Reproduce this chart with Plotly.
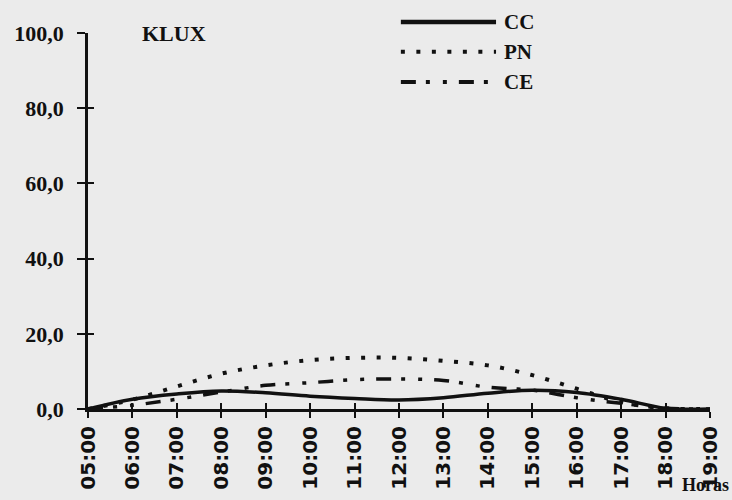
import plotly.graph_objects as go

# ---- data ----
hours = [5, 6, 7, 8, 9, 10, 11, 12, 13, 14, 15, 16, 17, 18, 19]
hour_labels = ["05:00", "06:00", "07:00", "08:00", "09:00", "10:00", "11:00",
               "12:00", "13:00", "14:00", "15:00", "16:00", "17:00", "18:00", "19:00"]
cc = [0, 2.6, 4.0, 4.8, 4.3, 3.4, 2.8, 2.4, 3.0, 4.2, 5.0, 4.4, 2.6, 0.2, 0]
pn = [0, 2.5, 6.0, 9.4, 11.6, 13.0, 13.6, 13.6, 12.8, 11.6, 9.0, 5.4, 1.8, 0.2, 0]
ce = [0, 1.0, 2.6, 4.5, 6.3, 7.0, 7.8, 8.0, 7.6, 5.8, 5.0, 3.0, 1.5, 0.2, 0]
y_ticks = [0, 20, 40, 60, 80, 100]
y_labels = ["0,0", "20,0", "40,0", "60,0", "80,0", "100,0"]
series_names = ["CC", "PN", "CE"]

BG = "#ebebeb"
INK = "#111111"
CE_DASH = "15px,10px,4px,13px,4px,12px"
PN_DASH = "4px,11.5px"

fig = go.Figure()
fig.add_trace(go.Scatter(x=hours, y=cc, mode="lines", name="CC", showlegend=False,
                         line=dict(color=INK, width=3.5, shape="spline", smoothing=1.0)))
fig.add_trace(go.Scatter(x=hours, y=pn, mode="lines", name="PN", showlegend=False,
                         line=dict(color=INK, width=4, dash=PN_DASH, shape="spline", smoothing=1.0)))
fig.add_trace(go.Scatter(x=hours, y=ce, mode="lines", name="CE", showlegend=False,
                         xaxis="x2", yaxis="y2",
                         line=dict(color=INK, width=3.5, dash=CE_DASH, shape="spline", smoothing=1.0)))

xfont = dict(family="DejaVu Sans", size=20, color=INK, weight="bold")
yfont = dict(family="Liberation Serif", size=22, color=INK, weight="bold")

fig.update_layout(
    width=732, height=500,
    margin=dict(l=88, r=10, t=33, b=88),
    paper_bgcolor=BG, plot_bgcolor=BG,
    showlegend=False,
    xaxis=dict(range=[5, 19], tickmode="array", tickvals=hours, ticktext=hour_labels,
               tickangle=-90, tickfont=xfont, ticks="outside", ticklen=6, tickwidth=2,
               ticklabeloverflow="allow",
               tickcolor=INK, showline=True, linecolor=INK, linewidth=3,
               showgrid=False, zeroline=False),
    yaxis=dict(range=[0, 100], tickmode="array", tickvals=y_ticks, ticktext=y_labels,
               tickfont=yfont, ticks="outside", ticklen=8, tickwidth=2, tickcolor=INK,
               ticklabelstandoff=9,
               showline=True, linecolor=INK, linewidth=2.5, showgrid=False, zeroline=False),
    xaxis2=dict(range=[5, 19], overlaying="x", anchor="y2", side="bottom",
                tickmode="array", tickvals=hours, ticks="inside", ticklen=6, tickwidth=2,
                tickcolor=INK, showticklabels=False, showline=False, showgrid=False,
                zeroline=False),
    yaxis2=dict(range=[0, 100], overlaying="y", anchor="x2", side="left",
                tickmode="array", tickvals=y_ticks, ticks="inside", ticklen=6, tickwidth=2,
                tickcolor=INK, showticklabels=False, showline=False, showgrid=False,
                zeroline=False),
)

# legend drawn by hand (line samples + labels)
legend_rows = [(series_names[0], "solid", 4.5, 1.029),
               (series_names[1], PN_DASH, 4, 0.950),
               (series_names[2], CE_DASH, 4, 0.870)]
for name, dash, w, yy in legend_rows:
    fig.add_shape(type="line", xref="paper", yref="paper", x0=0.503, x1=0.656,
                  y0=yy, y1=yy, line=dict(color=INK, width=w, dash=dash))
    fig.add_annotation(xref="paper", yref="paper", x=0.666, y=yy, text=name,
                       showarrow=False, xanchor="left", yanchor="middle",
                       font=dict(family="Liberation Serif", size=21, color=INK, weight="bold"))

fig.add_annotation(xref="paper", yref="paper", x=0.138, y=1.0, text="KLUX",
                   showarrow=False, xanchor="center", yanchor="middle",
                   font=dict(family="Liberation Serif", size=22, color=INK, weight="bold"))
fig.add_annotation(xref="paper", yref="paper", x=0.952, y=-0.202, text="Horas",
                   showarrow=False, xanchor="left", yanchor="middle",
                   font=dict(family="Liberation Serif", size=18, color=INK, weight="bold"))

fig.write_html("out.html",
               config={"displayModeBar": False},
               post_script="document.body.style.margin='0';"
                           "document.body.style.overflow='hidden';"
                           "document.body.style.background='" + BG + "';")
